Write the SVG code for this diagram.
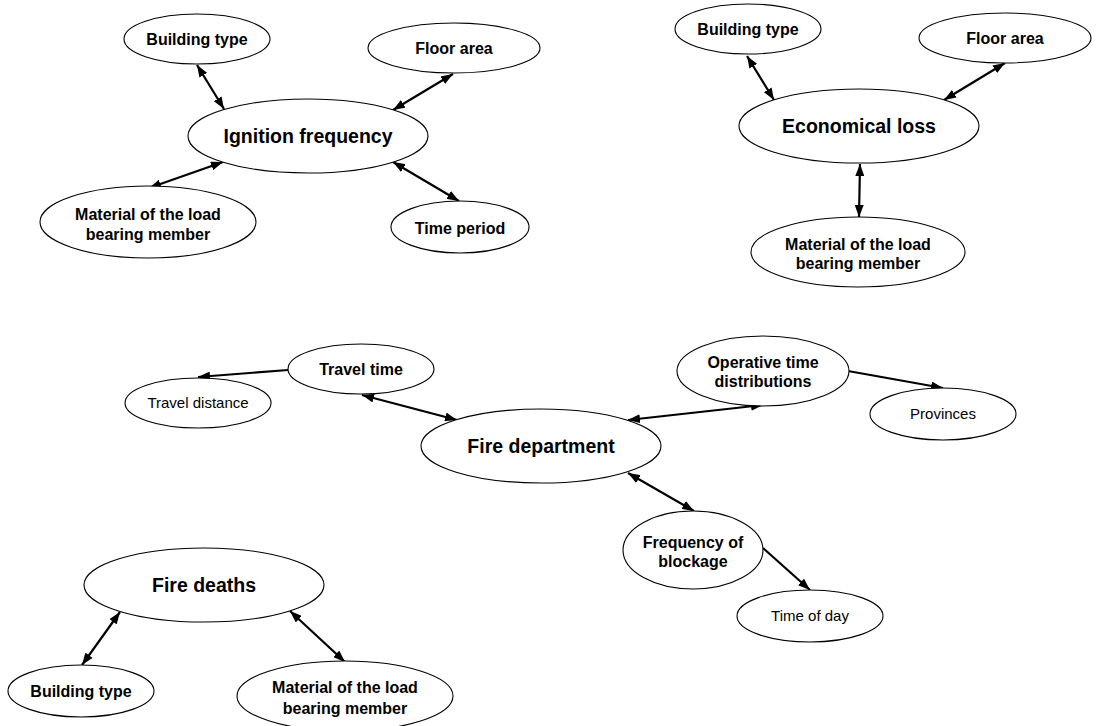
<svg xmlns="http://www.w3.org/2000/svg" width="1097" height="726" viewBox="0 0 1097 726">
<style>
.n ellipse{fill:#fff;stroke:#000;stroke-width:1.1}
text{font-family:"Liberation Sans",Arial,sans-serif;fill:#000;text-anchor:middle}
.b{font-weight:bold;font-size:16px}
.B{font-weight:bold;font-size:19.5px}
.r{font-size:15px}
#connectors line{stroke:#000;stroke-width:2.2}
</style>
<defs>
<marker id="ah" viewBox="0 0 12 9" refX="12" refY="4.5" markerWidth="12" markerHeight="9" markerUnits="userSpaceOnUse" orient="auto-start-reverse">
<path d="M0,0 L12,4.5 L0,9 z" fill="#000"/>
</marker>
</defs>
<rect width="1097" height="726" fill="#fff"/>
<g id="connectors">
<line x1="197" y1="65" x2="224" y2="109" marker-start="url(#ah)" marker-end="url(#ah)"/>
<line x1="453" y1="74" x2="393" y2="110" marker-start="url(#ah)" marker-end="url(#ah)"/>
<line x1="149" y1="188" x2="223" y2="162" marker-start="url(#ah)" marker-end="url(#ah)"/>
<line x1="459" y1="201" x2="393" y2="162" marker-start="url(#ah)" marker-end="url(#ah)"/>
<line x1="747" y1="56" x2="774" y2="100" marker-start="url(#ah)" marker-end="url(#ah)"/>
<line x1="1005" y1="63" x2="944" y2="100" marker-start="url(#ah)" marker-end="url(#ah)"/>
<line x1="860" y1="164" x2="859" y2="217" marker-start="url(#ah)" marker-end="url(#ah)"/>
<line x1="288" y1="370" x2="198" y2="377" marker-end="url(#ah)"/>
<line x1="362" y1="395" x2="457" y2="420" marker-start="url(#ah)" marker-end="url(#ah)"/>
<line x1="628" y1="420" x2="763" y2="405" marker-start="url(#ah)" marker-end="url(#ah)"/>
<line x1="848" y1="371" x2="943" y2="388" marker-end="url(#ah)"/>
<line x1="628" y1="473" x2="694" y2="511" marker-start="url(#ah)" marker-end="url(#ah)"/>
<line x1="763" y1="548" x2="810" y2="590" marker-end="url(#ah)"/>
<line x1="82" y1="665" x2="120" y2="612" marker-start="url(#ah)" marker-end="url(#ah)"/>
<line x1="345" y1="662" x2="290" y2="611" marker-start="url(#ah)" marker-end="url(#ah)"/>
</g>
<g id="ignition" class="n"><ellipse cx="308" cy="136" rx="120" ry="37"/><text class="B" x="308" y="143">Ignition frequency</text></g>
<g id="ig-building" class="n"><ellipse cx="197" cy="39" rx="73" ry="25"/><text class="b" x="197" y="45">Building type</text></g>
<g id="ig-floor" class="n"><ellipse cx="454" cy="48" rx="86" ry="25"/><text class="b" x="454" y="54">Floor area</text></g>
<g id="ig-material" class="n"><ellipse cx="148" cy="222" rx="108" ry="36"/><text class="b" x="148" y="220">Material of the load</text><text class="b" x="148" y="240">bearing member</text></g>
<g id="ig-time" class="n"><ellipse cx="460" cy="227" rx="69" ry="26"/><text class="b" x="460" y="234">Time period</text></g>

<g id="economical" class="n"><ellipse cx="859" cy="126" rx="120" ry="37"/><text class="B" x="859" y="133">Economical loss</text></g>
<g id="ec-building" class="n"><ellipse cx="748" cy="29" rx="73" ry="25"/><text class="b" x="748" y="35">Building type</text></g>
<g id="ec-floor" class="n"><ellipse cx="1005" cy="38" rx="86" ry="25"/><text class="b" x="1005" y="44">Floor area</text></g>
<g id="ec-material" class="n"><ellipse cx="858" cy="252" rx="107" ry="35"/><text class="b" x="858" y="250">Material of the load</text><text class="b" x="858" y="269">bearing member</text></g>

<g id="firedept" class="n"><ellipse cx="541" cy="446" rx="120" ry="37"/><text class="B" x="541" y="453">Fire department</text></g>
<g id="traveltime" class="n"><ellipse cx="361" cy="369" rx="73" ry="25"/><text class="b" x="361" y="375">Travel time</text></g>
<g id="traveldist" class="n"><ellipse cx="198" cy="403" rx="73" ry="25"/><text class="r" x="198" y="408">Travel distance</text></g>
<g id="operative" class="n"><ellipse cx="763" cy="371" rx="86" ry="35"/><text class="b" x="763" y="368">Operative time</text><text class="b" x="763" y="387">distributions</text></g>
<g id="provinces" class="n"><ellipse cx="943" cy="414" rx="73" ry="26"/><text class="r" x="943" y="419">Provinces</text></g>
<g id="blockage" class="n"><ellipse cx="693" cy="550" rx="70" ry="39"/><text class="b" x="693" y="548">Frequency of</text><text class="b" x="693" y="567">blockage</text></g>
<g id="timeofday" class="n"><ellipse cx="810" cy="616" rx="73" ry="26"/><text class="r" x="810" y="621">Time of day</text></g>

<g id="deaths" class="n"><ellipse cx="204" cy="585" rx="120" ry="37"/><text class="B" x="204" y="592">Fire deaths</text></g>
<g id="fd-building" class="n"><ellipse cx="81" cy="691" rx="73" ry="26"/><text class="b" x="81" y="697">Building type</text></g>
<g id="fd-material" class="n"><ellipse cx="345" cy="696" rx="108" ry="35"/><text class="b" x="345" y="693">Material of the load</text><text class="b" x="345" y="714">bearing member</text></g>
</svg>
